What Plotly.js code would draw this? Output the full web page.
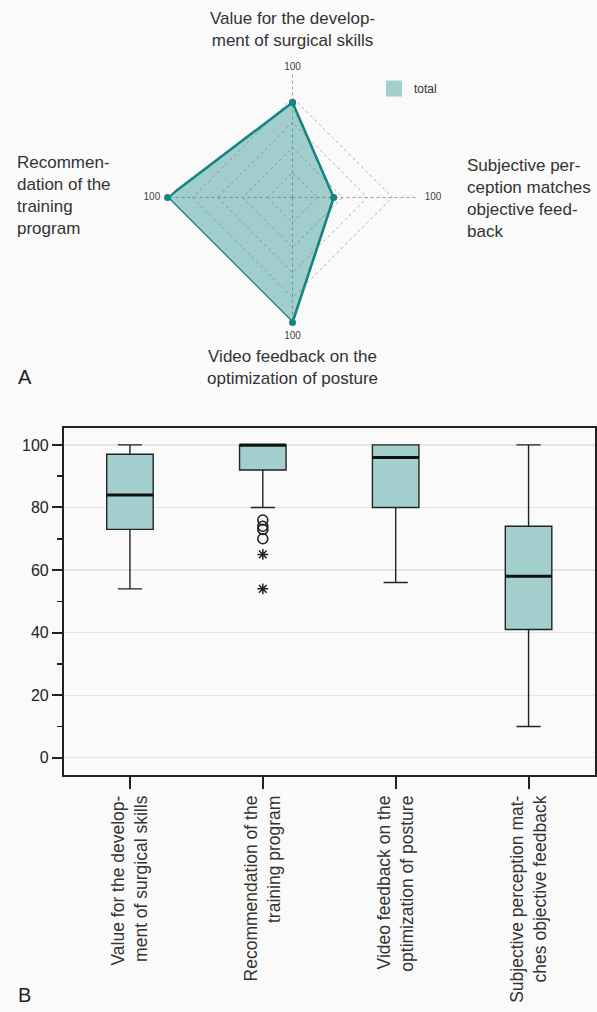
<!DOCTYPE html>
<html>
<head>
<meta charset="utf-8">
<script src="https://cdn.plot.ly/plotly-3.0.1.min.js"></script>
<style>
  html, body { margin: 0; padding: 0; background: #fafafa; }
  #chart { width: 597px; height: 1012px; }
</style>
</head>
<body>
<div id="chart"></div>
<script>
// ---------- data ----------
const categories = [
  "Value for the development of surgical skills",
  "Subjective perception matches objective feedback",
  "Video feedback on the optimization of posture",
  "Recommendation of the training program"
];
const radarLabels = [
  "Value for the develop-<br>ment of surgical skills",
  "Subjective per-<br>ception matches<br>objective feed-<br>back",
  "Video feedback on the<br>optimization of posture",
  "Recommen-<br>dation of the<br>training<br>program"
];
const radarValues = [76, 33, 100, 100];
const radarMaxLabels = ["100", "100", "100", "100"];
const radarMax = [100, 100, 100, 100];
const seriesName = "total";

const boxCategories = [
  "Value for the development of surgical skills",
  "Recommendation of the training program",
  "Video feedback on the optimization of posture",
  "Subjective perception matches objective feedback"
];
const boxTickLabels = [
  "Value for the develop-<br>ment of surgical skills",
  "Recommendation of the<br>training program",
  "Video feedback on the<br>optimization of posture",
  "Subjective perception mat-<br>ches objective feedback"
];
const boxLower  = [54, 80, 56, 10];
const boxQ1     = [73, 92, 80, 41];
const boxMedian = [84, 100, 96, 58];
const boxQ3     = [97, 100, 100, 74];
const boxUpper  = [100, 100, 100, 100];
const outlierCircles = [76, 74, 73, 70];
const outlierStars   = [65, 54];
const yTicks = [0, 20, 40, 60, 80, 100];

// ---------- styles ----------
const FONT = "Liberation Sans, Arial, sans-serif";
const teal = "#168482";
const boxFill = "#a3d0cf";

const W = 597, H = 1012;
const px = x => x / W;
const py = y => 1 - y / H;

const rClosed = radarValues.concat([radarValues[0]]);
const tClosed = categories.concat([categories[0]]);

const traces = [
  {
    type: "scatterpolar", subplot: "polar",
    r: rClosed, theta: tClosed,
    mode: "none",
    fill: "toself",
    fillcolor: "rgba(27,138,136,0.4)",
    showlegend: false, hoverinfo: "skip"
  },
  {
    // legend entry: square swatch (points hidden on the chart via unselected opacity)
    type: "scatterpolar", subplot: "polar",
    r: radarValues, theta: categories,
    mode: "markers",
    marker: { symbol: "square", size: 16, color: boxFill, line: { width: 0 } },
    selectedpoints: [],
    unselected: { marker: { opacity: 0 } },
    name: seriesName, showlegend: true, hoverinfo: "skip"
  },
  {
    type: "scatterpolar", subplot: "polar",
    r: rClosed, theta: tClosed,
    mode: "lines+markers",
    line: { color: teal, width: 2.6 },
    marker: { color: teal, size: 7, line: { width: 0 } },
    showlegend: false, hoverinfo: "skip"
  },
  {
    type: "scatterpolar", subplot: "polar",
    r: radarMax, theta: categories,
    mode: "markers+text", text: radarMaxLabels,
    marker: { size: [0, 10, 12, 10], color: "rgba(0,0,0,0)", line: { width: 0 } },
    textposition: ["top center", "middle right", "bottom center", "middle left"],
    textfont: { family: FONT, size: 10, color: "#444" },
    showlegend: false, hoverinfo: "skip"
  },
  {
    type: "box", xaxis: "x", yaxis: "y",
    x: boxCategories,
    q1: boxQ1, median: boxMedian, q3: boxQ3,
    lowerfence: boxLower, upperfence: boxUpper,
    boxpoints: false,
    fillcolor: boxFill,
    line: { color: "#222", width: 1.4 },
    width: 0.35, whiskerwidth: 0.52,
    showlegend: false, hoverinfo: "skip"
  },
  {
    type: "box", xaxis: "x", yaxis: "y",
    x: boxCategories,
    q1: boxMedian, median: boxMedian, q3: boxMedian,
    lowerfence: boxMedian, upperfence: boxMedian,
    boxpoints: false,
    fillcolor: "rgba(0,0,0,0)",
    line: { color: "#111", width: 3 },
    width: 0.35, whiskerwidth: 0,
    showlegend: false, hoverinfo: "skip"
  },
  {
    type: "scatter", xaxis: "x", yaxis: "y",
    x: outlierCircles.map(() => boxCategories[1]),
    y: outlierCircles,
    mode: "markers",
    marker: { symbol: "circle-open", size: 10, color: "#222", line: { width: 1.6 } },
    showlegend: false, hoverinfo: "skip"
  },
  {
    type: "scatter", xaxis: "x", yaxis: "y",
    x: outlierStars.map(() => boxCategories[1]),
    y: outlierStars,
    mode: "markers",
    marker: { symbol: "asterisk-open", size: 9, color: "#222", line: { width: 1.5 } },
    showlegend: false, hoverinfo: "skip"
  }
];

const annotations = [
  { text: radarLabels[0], x: px(292), y: py(29.5), xanchor: "center", yanchor: "middle", align: "center" },
  { text: radarLabels[1], x: px(465), y: py(198.5), xanchor: "left", yanchor: "middle", align: "left" },
  { text: radarLabels[2], x: px(292), y: py(367.5), xanchor: "center", yanchor: "middle", align: "center" },
  { text: radarLabels[3], x: px(15), y: py(195.5), xanchor: "left", yanchor: "middle", align: "left" },
  { text: "A", x: px(16), y: py(377), xanchor: "left", yanchor: "middle", font: { family: FONT, size: 20, color: "#222" } },
  { text: "B", x: px(16), y: py(995), xanchor: "left", yanchor: "middle", font: { family: FONT, size: 20, color: "#222" } }
].map(a => Object.assign({
  xref: "paper", yref: "paper", showarrow: false,
  font: { family: FONT, size: 17, color: "#333" }
}, a));

const R = 125, cx = 292.5, cy = 197.5;

const layout = {
  width: W, height: H,
  margin: { l: 0, r: 0, t: 0, b: 0 },
  paper_bgcolor: "#fafafa",
  plot_bgcolor: "#fafafa",
  font: { family: FONT, color: "#222" },
  showlegend: true,
  legend: {
    x: px(374), y: py(74), xanchor: "left", yanchor: "top",
    bgcolor: "rgba(0,0,0,0)",
    font: { family: FONT, size: 12, color: "#333" }
  },
  polar: {
    domain: { x: [px(cx - R), px(cx + R)], y: [py(cy + R), py(cy - R)] },
    bgcolor: "rgba(0,0,0,0)",
    gridshape: "linear",
    radialaxis: {
      range: [0, 100], tickvals: [20, 40, 60, 80, 100],
      showticklabels: false, ticks: "", showline: false,
      gridcolor: "#b5b5b5", griddash: "dot", gridwidth: 1
    },
    angularaxis: {
      type: "category", categoryarray: categories,
      rotation: 90, direction: "clockwise",
      showticklabels: false, ticks: "", showline: false,
      gridcolor: "#a0a0a0", griddash: "dot", gridwidth: 1
    }
  },
  xaxis: {
    domain: [px(63.5), px(595)],
    anchor: "y",
    type: "category",
    categoryarray: boxCategories,
    range: [-0.5, 3.5],
    tickvals: boxCategories, ticktext: boxTickLabels,
    tickangle: -90,
    ticks: "outside", ticklen: 12, tickwidth: 2, tickcolor: "#222",
    showline: true, mirror: true, linecolor: "#222", linewidth: 1.6,
    showgrid: false, zeroline: false,
    tickfont: { family: FONT, size: 17.5, color: "#333" },
    fixedrange: true
  },
  yaxis: {
    domain: [py(775), py(428)],
    anchor: "x",
    range: [-5.5, 105.4],
    tickvals: yTicks,
    ticks: "outside", ticklen: 10, tickwidth: 2, tickcolor: "#222",
    ticklabelstandoff: 0,
    minor: { dtick: 10, ticks: "outside", ticklen: 5, tickwidth: 1.5, tickcolor: "#222", showgrid: false },
    showline: true, mirror: true, linecolor: "#222", linewidth: 1.6,
    showgrid: true, gridcolor: "#e5e5e5", gridwidth: 1.2,
    zeroline: false,
    tickfont: { family: FONT, size: 16, color: "#222" },
    fixedrange: true
  },
  boxmode: "overlay",
  annotations: annotations
};

Plotly.newPlot("chart", traces, layout, { displayModeBar: false, staticPlot: true });
</script>
</body>
</html>
